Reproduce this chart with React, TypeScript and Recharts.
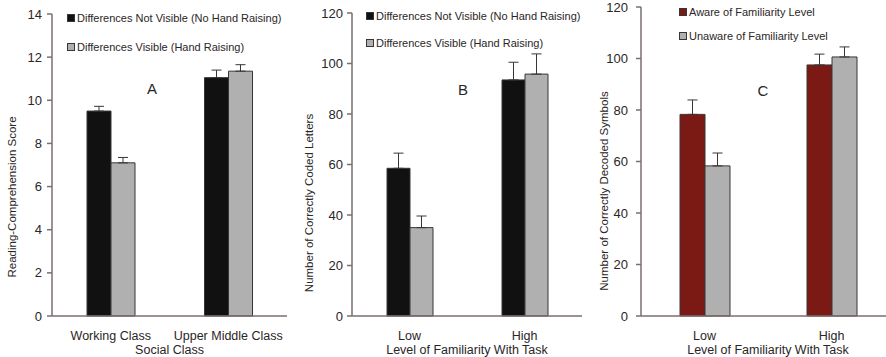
import { Bar, BarChart, ErrorBar, Label, Legend, XAxis, YAxis } from "recharts";

const FONT = '"Liberation Sans", Arial, sans-serif';
const TEXT = "#2a2626";
const AXIS = "#7a6e6e";
const EDGE = "#3a3535";

// Panel A
const categoriesA = ["Working Class", "Upper Middle Class"];
const notVisibleA = [9.5, 11.05];
const notVisibleErrA = [0.22, 0.35];
const visibleA = [7.1, 11.35];
const visibleErrA = [0.25, 0.3];
const ticksA = [0, 2, 4, 6, 8, 10, 12, 14];

// Panel B
const categoriesB = ["Low", "High"];
const notVisibleB = [58.5, 93.5];
const notVisibleErrB = [6, 7];
const visibleB = [35, 95.8];
const visibleErrB = [4.6, 8];
const ticksB = [0, 20, 40, 60, 80, 100, 120];

// Panel C
const categoriesC = ["Low", "High"];
const awareC = [78.3, 97.5];
const awareErrC = [5.6, 4.2];
const unawareC = [58.3, 100.6];
const unawareErrC = [5, 3.9];
const ticksC = [0, 20, 40, 60, 80, 100, 120];

const legendHand = ["Differences Not Visible (No Hand Raising)", "Differences Visible (Hand Raising)"];
const legendAware = ["Aware of Familiarity Level", "Unaware of Familiarity Level"];

const rows = (cats: string[], s1: number[], e1: number[], s2: number[], e2: number[]) =>
  cats.map((name, i) => ({ name, s1: s1[i], e1: [0, e1[i]], s2: s2[i], e2: [0, e2[i]] }));

type PanelProps = {
  left: number;
  width: number;
  top: number;
  yWidth: number;
  tickMargin: number;
  max: number;
  ticks: number[];
  barSize: number;
  data: ReturnType<typeof rows>;
  colors: [string, string];
  names: string[];
  legendLeft: number;
  legendTop: number;
  legendRow: number;
  yTitle: string;
  yTitleX: number;
  yTitleY: number;
  xTitle: string;
  letter: string;
  letterX: number;
  letterY: number;
};

function Panel(p: PanelProps) {
  return (
    <div style={{ position: "absolute", left: p.left, top: 0 }}>
      <BarChart
        width={p.width}
        height={357}
        data={p.data}
        margin={{ top: p.top, right: 3, bottom: 0, left: 0 }}
        barGap={0}
        style={{ fontFamily: FONT }}
      >
        <XAxis
          dataKey="name"
          height={41}
          tickLine={false}
          axisLine={{ stroke: AXIS, strokeWidth: 1.5 }}
          tick={{ fill: TEXT, fontSize: 12.5 }}
          tickMargin={9}
        >
          <Label value={p.xTitle} position="insideBottom" offset={3} fill={TEXT} fontSize={12.5} />
        </XAxis>
        <YAxis
          width={p.yWidth}
          domain={[0, p.max]}
          ticks={p.ticks}
          interval={0}
          tickSize={5}
          tickMargin={p.tickMargin}
          tickLine={{ stroke: AXIS, strokeWidth: 1.5 }}
          axisLine={{ stroke: AXIS, strokeWidth: 1.5 }}
          tick={{ fill: TEXT, fontSize: 13 }}
        >
          <Label
            content={() => (
              <text
                x={p.yTitleX}
                y={p.yTitleY}
                transform={`rotate(-90 ${p.yTitleX} ${p.yTitleY})`}
                textAnchor="middle"
                dominantBaseline="central"
                fill={TEXT}
                fontSize={11.5}
              >
                {p.yTitle}
              </text>
            )}
          />
        </YAxis>
        <Legend
          layout="vertical"
          align="center"
          verticalAlign="middle"
          wrapperStyle={{ left: p.legendLeft, top: p.legendTop, width: "auto", height: "auto" }}
          content={() => (
            <div style={{ fontFamily: FONT, fontSize: 11, color: TEXT }}>
              {p.names.map((n, i) => (
                <div key={n} style={{ display: "flex", alignItems: "center", height: p.legendRow }}>
                  <span
                    style={{
                      width: 6,
                      height: 6,
                      background: p.colors[i],
                      border: `1px solid ${EDGE}`,
                      marginRight: 2,
                    }}
                  />
                  {n}
                </div>
              ))}
            </div>
          )}
        />
        <Bar dataKey="s1" name={p.names[0]} fill={p.colors[0]} stroke={EDGE} strokeWidth={1} barSize={p.barSize} isAnimationActive={false}>
          <ErrorBar dataKey="e1" width={5} stroke={EDGE} strokeWidth={1} direction="y" />
        </Bar>
        <Bar dataKey="s2" name={p.names[1]} fill={p.colors[1]} stroke={EDGE} strokeWidth={1} barSize={p.barSize} isAnimationActive={false}>
          <ErrorBar dataKey="e2" width={5} stroke={EDGE} strokeWidth={1} direction="y" />
        </Bar>
      </BarChart>
      <div
        style={{
          position: "absolute",
          left: p.letterX,
          top: p.letterY,
          transform: "translate(-50%, -50%)",
          fontFamily: FONT,
          fontSize: 15,
          color: TEXT,
        }}
      >
        {p.letter}
      </div>
    </div>
  );
}

export default function App() {
  return (
    <div style={{ position: "absolute", left: 0, top: 0, width: 886, height: 357, overflow: "hidden", background: "#fff" }}>
      <Panel
        left={0}
        width={290}
        top={14}
        yWidth={52}
        tickMargin={5}
        max={14}
        ticks={ticksA}
        barSize={24}
        data={rows(categoriesA, notVisibleA, notVisibleErrA, visibleA, visibleErrA)}
        colors={["#111111", "#b0b0b0"]}
        names={legendHand}
        legendLeft={67}
        legendTop={3}
        legendRow={29}
        yTitle="Reading-Comprehension Score"
        yTitleX={12}
        yTitleY={197}
        xTitle="Social Class"
        letter="A"
        letterX={152}
        letterY={88}
      />
      <Panel
        left={290}
        width={295}
        top={13}
        yWidth={62}
        tickMargin={4}
        max={120}
        ticks={ticksB}
        barSize={23}
        data={rows(categoriesB, notVisibleB, notVisibleErrB, visibleB, visibleErrB)}
        colors={["#111111", "#b0b0b0"]}
        names={legendHand}
        legendLeft={76}
        legendTop={2}
        legendRow={27}
        yTitle="Number of Correctly Coded Letters"
        yTitleX={19}
        yTitleY={203}
        xTitle="Level of Familiarity With Task"
        letter="B"
        letterX={173}
        letterY={89}
      />
      <Panel
        left={586}
        width={312}
        top={7}
        yWidth={55}
        tickMargin={8}
        max={120}
        ticks={ticksC}
        barSize={25}
        data={rows(categoriesC, awareC, awareErrC, unawareC, unawareErrC)}
        colors={["#7b1a14", "#b0b0b0"]}
        names={legendAware}
        legendLeft={93}
        legendTop={0}
        legendRow={24}
        yTitle="Number of Correctly Decoded Symbols"
        yTitleX={18}
        yTitleY={191}
        xTitle="Level of Familiarity With Task"
        letter="C"
        letterX={177}
        letterY={90}
      />
    </div>
  );
}
